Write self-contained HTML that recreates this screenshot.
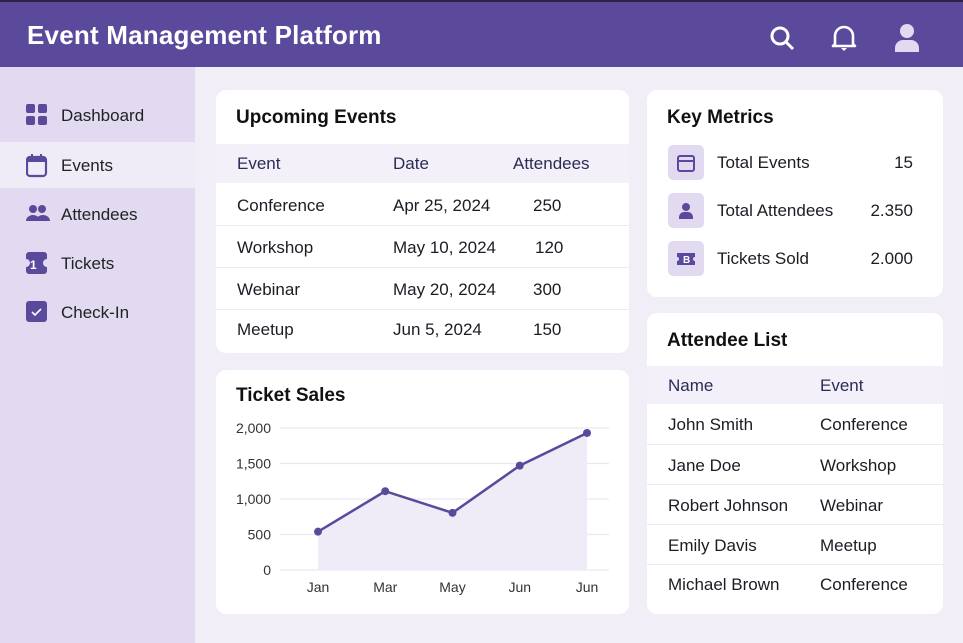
<!DOCTYPE html>
<html><head><meta charset="utf-8"><style>
*{box-sizing:border-box;margin:0;padding:0}
body{width:963px;height:643px;overflow:hidden;font-family:"Liberation Sans",sans-serif;background:#f1eef8;position:relative;color:#1c1c24}
.abs{position:absolute}
#hdr{left:0;top:0;width:963px;height:67px;background:#5b4a9b;border-top:2px solid #2a2440}
#hdr .t{left:27px;top:18px;color:#fff;font-size:26px;font-weight:bold;letter-spacing:0.2px}
#side{left:0;top:67px;width:195px;height:576px;background:#e2daf0}
.nav{position:absolute;left:0;width:195px;height:46px;font-size:17px;color:#222}
.nav span{position:absolute;left:61px;top:14px}
.nav svg{position:absolute;left:26px;top:12px}
.card{position:absolute;background:#fff;border-radius:10px;overflow:hidden}
.ct{position:absolute;left:20px;font-size:19px;font-weight:bold;color:#111}
.th{position:absolute;left:0;right:0;background:#f3f0f9;color:#2c2b55;font-size:17px}
.row{position:absolute;left:0;right:0;font-size:17px;border-top:1px solid #ece9f3}
.row span,.th span{position:absolute}
.m{font-size:17px}
</style></head><body>
<div id="hdr" class="abs">
<div class="t abs">Event Management Platform</div>
<svg class="abs" style="left:768px;top:22px" width="28" height="28"><circle cx="12" cy="12" r="8" fill="none" stroke="#fff" stroke-width="3"/><line x1="18" y1="18" x2="25" y2="25" stroke="#fff" stroke-width="3"/></svg>
<svg class="abs" style="left:830px;top:21px" width="28" height="30"><path d="M5 21 V13 a9 9 0 0 1 18 0 V21 L25 23 H3 Z" fill="none" stroke="#fff" stroke-width="2.6" stroke-linejoin="round"/><path d="M11 25 h6 l-3 3z" fill="#fff"/></svg>
<svg class="abs" style="left:893px;top:20px" width="28" height="30"><circle cx="14" cy="9" r="7" fill="#e2daf0"/><path d="M2 30 v-4 a8 8 0 0 1 8 -8 h8 a8 8 0 0 1 8 8 v4z" fill="#e2daf0"/></svg>
</div>
<div id="side" class="abs">
<div class="nav" style="top:25px"><svg width="22" height="22"><rect x="0" y="0" width="9" height="9" rx="2" fill="#5b4a9b"/><rect x="12" y="0" width="9" height="9" rx="2" fill="#5b4a9b"/><rect x="0" y="12" width="9" height="9" rx="2" fill="#5b4a9b"/><rect x="12" y="12" width="9" height="9" rx="2" fill="#5b4a9b"/></svg><span>Dashboard</span></div>
<div class="nav" style="top:75px;background:#efebf7"><svg width="22" height="24"><rect x="1" y="3" width="19" height="19" rx="3" fill="none" stroke="#5b4a9b" stroke-width="2.2"/><rect x="1" y="3" width="19" height="5" fill="#5b4a9b"/><rect x="5" y="0" width="2" height="5" fill="#5b4a9b"/><rect x="14" y="0" width="2" height="5" fill="#5b4a9b"/></svg><span>Events</span></div>
<div class="nav" style="top:124px"><svg width="24" height="22"><circle cx="7" cy="6" r="4" fill="#5b4a9b"/><circle cx="16" cy="6" r="4" fill="#5b4a9b"/><path d="M0 18 a7 6 0 0 1 14 0z M10 18 a7 6 0 0 1 14 0z" fill="#5b4a9b"/></svg><span>Attendees</span></div>
<div class="nav" style="top:173px"><svg width="22" height="22"><path d="M0 3 a3 3 0 0 1 3-3 h15 a3 3 0 0 1 3 3 v4 a4 4 0 0 0 0 8 v4 a3 3 0 0 1-3 3 h-15 a3 3 0 0 1-3-3 v-4 a4 4 0 0 0 0-8z" fill="#5b4a9b"/><text x="4" y="17" font-size="12" font-weight="bold" fill="#fff" font-family="Liberation Sans">1</text></svg><span>Tickets</span></div>
<div class="nav" style="top:222px"><svg width="22" height="22"><rect x="0" y="0" width="21" height="21" rx="3" fill="#5b4a9b"/><path d="M6 11 l3 3 l6-6" fill="none" stroke="#fff" stroke-width="1.6"/></svg><span>Check-In</span></div>
</div>

<div class="card" style="left:216px;top:90px;width:413px;height:263px">
<div class="ct" style="top:17px">Upcoming Events</div>
<div class="th" style="top:54px;height:39px"><span style="left:21px;top:10px">Event</span><span style="left:177px;top:10px">Date</span><span style="left:297px;top:10px">Attendees</span></div>
<div class="row" style="top:93px;height:42px;border-top:none"><span style="left:21px;top:13px">Conference</span><span style="left:177px;top:13px">Apr 25, 2024</span><span style="left:317px;top:13px">250</span></div>
<div class="row" style="top:135px;height:42px"><span style="left:21px;top:12px">Workshop</span><span style="left:177px;top:12px">May 10, 2024</span><span style="left:319px;top:12px">120</span></div>
<div class="row" style="top:177px;height:42px"><span style="left:21px;top:12px">Webinar</span><span style="left:177px;top:12px">May 20, 2024</span><span style="left:317px;top:12px">300</span></div>
<div class="row" style="top:219px;height:44px"><span style="left:21px;top:10px">Meetup</span><span style="left:177px;top:10px">Jun 5, 2024</span><span style="left:317px;top:10px">150</span></div>
</div>

<div class="card" style="left:216px;top:370px;width:413px;height:244px">
<div class="ct" style="top:15px">Ticket Sales</div>
<svg id="chart" class="abs" style="left:0;top:0" width="413" height="244"></svg>
</div>

<div class="card" style="left:647px;top:90px;width:296px;height:207px">
<div class="ct" style="top:17px">Key Metrics</div>
<div class="abs" style="left:21px;top:55px;width:36px;height:35px;background:#e2daf0;border-radius:5px"><svg style="margin:9px" width="18" height="18"><rect x="1" y="2" width="16" height="15" rx="2" fill="none" stroke="#5b4a9b" stroke-width="2"/><line x1="1" y1="7" x2="17" y2="7" stroke="#5b4a9b" stroke-width="2"/></svg></div>
<div class="abs m" style="left:70px;top:63px">Total Events</div>
<div class="abs m" style="right:30px;top:63px">15</div>
<div class="abs" style="left:21px;top:103px;width:36px;height:35px;background:#e2daf0;border-radius:5px"><svg style="margin:9px" width="18" height="18"><circle cx="9" cy="5" r="4" fill="#5b4a9b"/><path d="M2 17 v-2 a5 5 0 0 1 5-5 h4 a5 5 0 0 1 5 5 v2z" fill="#5b4a9b"/></svg></div>
<div class="abs m" style="left:70px;top:111px">Total Attendees</div>
<div class="abs m" style="right:30px;top:111px">2.350</div>
<div class="abs" style="left:21px;top:151px;width:36px;height:35px;background:#e2daf0;border-radius:5px"><svg style="margin:9px" width="18" height="18"><path d="M0 3 h18 v4 a2 2 0 0 0 0 4 v4 h-18 v-4 a2 2 0 0 0 0-4z" fill="#5b4a9b"/><text x="6" y="13" font-size="10" font-weight="bold" fill="#fff" font-family="Liberation Sans">B</text></svg></div>
<div class="abs m" style="left:70px;top:159px">Tickets Sold</div>
<div class="abs m" style="right:30px;top:159px">2.000</div>
</div>

<div class="card" style="left:647px;top:313px;width:296px;height:301px">
<div class="ct" style="top:17px">Attendee List</div>
<div class="th" style="top:53px;height:38px"><span style="left:21px;top:10px">Name</span><span style="left:173px;top:10px">Event</span></div>
<div class="row" style="top:91px;height:40px;border-top:none"><span style="left:21px;top:11px">John Smith</span><span style="left:173px;top:11px">Conference</span></div>
<div class="row" style="top:131px;height:40px"><span style="left:21px;top:11px">Jane Doe</span><span style="left:173px;top:11px">Workshop</span></div>
<div class="row" style="top:171px;height:40px"><span style="left:21px;top:11px">Robert Johnson</span><span style="left:173px;top:11px">Webinar</span></div>
<div class="row" style="top:211px;height:40px"><span style="left:21px;top:11px">Emily Davis</span><span style="left:173px;top:11px">Meetup</span></div>
<div class="row" style="top:251px;height:50px"><span style="left:21px;top:10px">Michael Brown</span><span style="left:173px;top:10px">Conference</span></div>
</div>

<script>
const months = ["Jan","Mar","May","Jun","Jun"];
const sales = [540, 1110, 805, 1470, 1930];
const yTicks = [0, 500, 1000, 1500, 2000];
const NS="http://www.w3.org/2000/svg";
const svg=document.getElementById('chart');
const x0=102,x1=371,yB=200,yT=58,yMax=2000;
function xs(i){return x0+(x1-x0)*i/(months.length-1);}
function ys(v){return yB-(yB-yT)*v/yMax;}
function mk(t,a){const e=document.createElementNS(NS,t);for(const k in a)e.setAttribute(k,a[k]);svg.appendChild(e);return e;}
yTicks.forEach(v=>{
  const g=mk('line',{x1:64,x2:393,y1:ys(v),y2:ys(v),stroke:'#ebe8f3','stroke-width':1.2});
  
  
  const t=mk('text',{x:55,y:ys(v)+5,'text-anchor':'end','font-size':14,fill:'#333','font-family':'Liberation Sans'});
  t.textContent=v.toLocaleString('en-US');
  
  
});
let d='M'+xs(0)+' '+yB;
sales.forEach((v,i)=>{d+=' L'+xs(i)+' '+ys(v);});
d+=' L'+xs(sales.length-1)+' '+yB+' Z';
const area=mk('path',{d:d,fill:'#efecf7'});


const line=mk('polyline',{points:sales.map((v,i)=>xs(i)+','+ys(v)).join(' '),fill:'none',stroke:'#5b4a9b','stroke-width':2.5});


sales.forEach((v,i)=>{
  const c=mk('circle',{cx:xs(i),cy:ys(v),r:4,fill:'#5b4a9b'});
  
  
});
months.forEach((m,i)=>{
  const t=mk('text',{x:xs(i),y:222,'text-anchor':'middle','font-size':14,fill:'#333','font-family':'Liberation Sans'});
  t.textContent=m;
  
  
});
</script>
</body></html>
